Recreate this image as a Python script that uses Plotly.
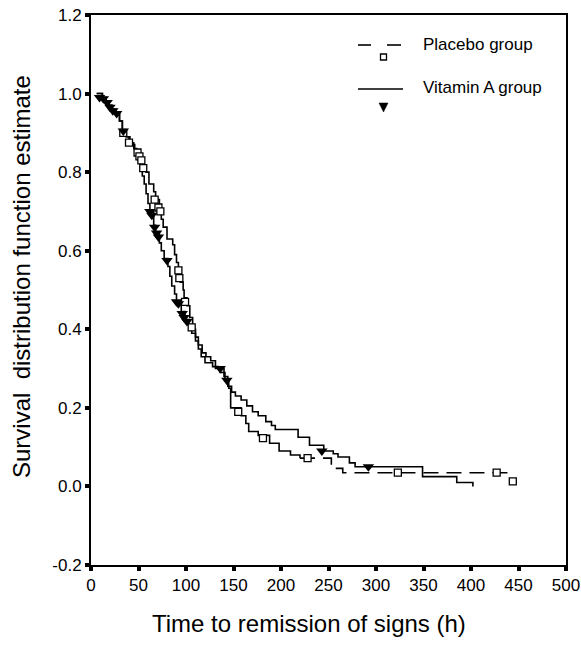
import plotly.graph_objects as go

# ---------------- data ----------------
vitA_time = [6, 12, 16, 19, 22, 26, 30, 33, 37, 40, 45, 48, 50, 52, 54, 56, 58, 60, 62, 66,
             68, 72, 74, 77, 81, 83, 85, 88, 90, 95, 99, 103, 106, 110, 113, 116, 120, 128,
             134, 140, 144, 148, 152, 158, 164, 170, 176, 184, 190, 194, 218, 230, 245, 255,
             260, 272, 278, 349, 385, 402]
vitA_surv = [1.0, 0.99, 0.98, 0.97, 0.96, 0.95, 0.93, 0.905, 0.89, 0.875, 0.86, 0.85, 0.83,
             0.81, 0.79, 0.77, 0.745, 0.72, 0.70, 0.665, 0.645, 0.62, 0.60, 0.58, 0.56, 0.535,
             0.51, 0.49, 0.47, 0.445, 0.425, 0.41, 0.39, 0.37, 0.35, 0.33, 0.315, 0.305, 0.30,
             0.28, 0.255, 0.24, 0.23, 0.22, 0.205, 0.19, 0.18, 0.165, 0.155, 0.145, 0.125,
             0.105, 0.09, 0.083, 0.075, 0.06, 0.05, 0.025, 0.01, 0.0]

placebo_time = [6, 12, 16, 19, 22, 26, 30, 33, 37, 41, 46, 50, 52, 54, 58, 61, 66, 68, 72, 74,
                76, 80, 86, 88, 90, 92, 94, 97, 98, 101, 104, 107, 110, 113, 117, 121, 126,
                131, 136, 141, 145, 147, 158, 163, 166, 176, 188, 198, 210, 220, 253, 265, 441,
                448]
placebo_surv = [1.0, 0.99, 0.98, 0.97, 0.96, 0.95, 0.93, 0.905, 0.89, 0.87, 0.855, 0.845,
                0.83, 0.81, 0.80, 0.77, 0.75, 0.73, 0.70, 0.68, 0.66, 0.63, 0.615, 0.59, 0.57,
                0.55, 0.52, 0.50, 0.48, 0.46, 0.43, 0.40, 0.38, 0.36, 0.34, 0.33, 0.32, 0.30,
                0.29, 0.27, 0.25, 0.20, 0.18, 0.16, 0.14, 0.13, 0.11, 0.09, 0.08, 0.072, 0.046,
                0.035, 0.013, 0.013]

# censored observations
vitA_cens_time = [9, 13, 17, 20, 23, 27, 34, 62, 64, 67, 69, 71, 80, 90, 92, 96, 98, 101,
                  136, 143, 243, 292]
vitA_cens_surv = [0.99, 0.987, 0.977, 0.965, 0.956, 0.949, 0.905, 0.70, 0.69, 0.66, 0.645,
                  0.635, 0.575, 0.47, 0.465, 0.44, 0.43, 0.42, 0.30, 0.27, 0.09, 0.05]
placebo_cens_time = [34, 40, 49, 51, 53, 55, 67, 71, 73, 92, 93, 99, 106, 155, 181, 228, 323,
                     427, 444]
placebo_cens_surv = [0.90, 0.875, 0.85, 0.84, 0.83, 0.81, 0.73, 0.71, 0.70, 0.55, 0.53, 0.47,
                     0.405, 0.19, 0.123, 0.072, 0.035, 0.035, 0.013]

placebo_dash_from = 220   # the long flat tail is drawn dashed

x_ticks = [0, 50, 100, 150, 200, 250, 300, 350, 400, 450, 500]
y_ticks = [-0.2, 0.0, 0.2, 0.4, 0.6, 0.8, 1.0, 1.2]
y_ticklabels = ["-0.2", "0.0", "0.2", "0.4", "0.6", "0.8", "1.0", "1.2"]

legend_labels = ["Placebo group", "Vitamin A group"]
x_title = "Time to remission of signs (h)"
y_title = "Survival  distribution function estimate"

# ---------------- figure ----------------
FONT = "Liberation Sans, Arial, sans-serif"
W, H = 581, 662
PL, PT, PW, PH = 91, 15, 475, 550   # plot box in page pixels
ML, MT = PL, PT
MR = W - ML - PW
MB = H - MT - PH

fig = go.Figure()

split = placebo_time.index(placebo_dash_from)
fig.add_trace(go.Scatter(x=placebo_time[:split + 1], y=placebo_surv[:split + 1], mode="lines",
                         line=dict(color="black", width=1.6, shape="hv"), showlegend=False))
fig.add_trace(go.Scatter(x=placebo_time[split:], y=placebo_surv[split:], mode="lines",
                         line=dict(color="black", width=1.6, shape="hv", dash="15px,8px"),
                         showlegend=False))
fig.add_trace(go.Scatter(x=vitA_time, y=vitA_surv, mode="lines",
                         line=dict(color="black", width=1.6, shape="hv"), showlegend=False))
fig.add_trace(go.Scatter(x=placebo_cens_time, y=placebo_cens_surv, mode="markers",
                         marker=dict(symbol="square", size=7, color="white",
                                     line=dict(color="black", width=1.3)),
                         showlegend=False))
fig.add_trace(go.Scatter(x=vitA_cens_time, y=vitA_cens_surv, mode="markers",
                         marker=dict(symbol="triangle-down", size=10, color="black",
                                     line=dict(color="black", width=0)),
                         showlegend=False))


def px_x(p):
    return (p - PL) / PW


def px_y(p):
    return (PT + PH - p) / PH


shapes = []
# legend: placebo (dashed line with square below)
for a, b in [(358, 371), (387, 401)]:
    shapes.append(dict(type="line", xref="paper", yref="paper",
                       x0=px_x(a), x1=px_x(b), y0=px_y(45), y1=px_y(45),
                       line=dict(color="black", width=1.6)))
shapes.append(dict(type="rect", xref="paper", yref="paper",
                   x0=px_x(380.5), x1=px_x(386.5), y0=px_y(54), y1=px_y(60),
                   fillcolor="white", line=dict(color="black", width=1.3)))
# legend: vitamin A (solid line with triangle below)
shapes.append(dict(type="line", xref="paper", yref="paper",
                   x0=px_x(358), x1=px_x(403), y0=px_y(89), y1=px_y(89),
                   line=dict(color="black", width=1.6)))
tri = "M {} {} L {} {} L {} {} Z".format(px_x(379), px_y(103), px_x(388), px_y(103),
                                         px_x(383.5), px_y(112))
shapes.append(dict(type="path", xref="paper", yref="paper", path=tri,
                   fillcolor="black", line=dict(color="black", width=0.5)))

annotations = []
for lab, yy in zip(legend_labels, [44, 88]):
    annotations.append(dict(text=lab, xref="paper", yref="paper", x=px_x(421), y=px_y(yy),
                            xanchor="left", yanchor="middle", showarrow=False,
                            font=dict(family=FONT, size=17, color="black")))
# axis titles
annotations.append(dict(text=x_title, xref="paper", yref="paper", x=px_x(309), y=px_y(623),
                        xanchor="center", yanchor="middle", showarrow=False,
                        font=dict(family=FONT, size=24, color="black")))
annotations.append(dict(text=y_title, xref="paper", yref="paper", x=px_x(21), y=px_y(277),
                        xanchor="center", yanchor="middle", showarrow=False, textangle=-90,
                        font=dict(family=FONT, size=24, color="black")))

fig.update_layout(
    width=W, height=H,
    margin=dict(l=ML, r=MR, t=MT, b=MB, autoexpand=False),
    paper_bgcolor="white", plot_bgcolor="white",
    shapes=shapes, annotations=annotations,
    showlegend=False,
    font=dict(family=FONT, color="black"),
)
fig.update_xaxes(range=[0, 500], tickvals=x_ticks, ticks="outside", ticklen=4, tickwidth=4,
                 tickcolor="black", showline=True, linecolor="black", linewidth=2, mirror=True,
                 showgrid=False, zeroline=False, tickfont=dict(family=FONT, size=17),
                 ticklabeloverflow="allow", automargin=False)
fig.update_yaxes(range=[-0.2, 1.2], tickvals=y_ticks, ticktext=y_ticklabels, ticks="outside",
                 ticklen=4, tickwidth=4, tickcolor="black", showline=True, linecolor="black",
                 linewidth=2, mirror=True, showgrid=False, zeroline=False,
                 tickfont=dict(family=FONT, size=17),
                 ticklabeloverflow="allow", automargin=False)

# let the figure fill the page exactly (no default body margin / scrollbars)
fig.write_html("out.html",
               config={"displayModeBar": False},
               post_script="document.body.style.margin='0';"
                           "document.body.style.overflow='hidden';")
